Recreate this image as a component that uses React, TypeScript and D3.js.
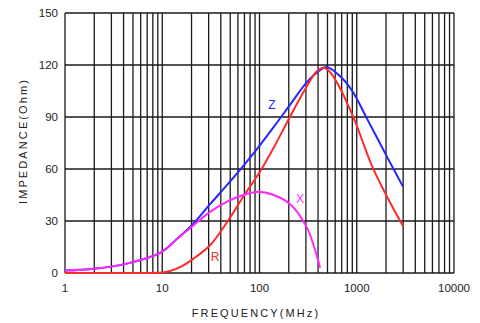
import { useEffect, useRef } from 'react';
import * as d3 from 'd3';

// values
const freqX = [1, 2, 4.3, 9.5, 14, 21, 31, 46, 68, 94, 140, 207, 305, 360, 420];
const valX = [1.5, 2.5, 5.4, 11.6, 19.3, 27.6, 35.3, 41, 45, 46.8, 45, 39.7, 26.6, 16, 3];

const freqZ = [1, 2, 4.3, 9.5, 14, 21, 31, 46, 63, 94, 139, 206, 306, 420, 490, 675, 900, 1270, 2050, 3000];
const valZ = [1.5, 2.5, 5.4, 11.6, 19.4, 28.6, 39.7, 50.5, 59.5, 71.5, 84, 97, 110, 117, 118.8, 113.5, 105, 89.2, 67, 49.7];

const freqR = [1, 5, 10, 12, 16, 21, 31, 46, 68, 101, 139, 206, 306, 387, 455, 530, 675, 850, 1000, 1200, 1430, 2050, 3000];
const valR = [0, 0, 0.3, 1.2, 4, 8.3, 16, 29, 44, 58.4, 72, 90.2, 107.6, 116.2, 118.4, 116, 106.5, 94.5, 85, 73, 62, 44, 27];

const yTicks = [0, 30, 60, 90, 120, 150];
const xTicks = [1, 10, 100, 1000, 10000];

const series = [
  { name: 'Z', freq: freqZ, val: valZ, color: '#2626ff', labelAt: [134, 97] },
  { name: 'R', freq: freqR, val: valR, color: '#ff2a2a', labelAt: [35, 9.3] },
  { name: 'X', freq: freqX, val: valX, color: '#ff26ff', labelAt: [262, 43] },
];

export default function App() {
  const svgRef = useRef<SVGSVGElement>(null);
  const width = 480;
  const height = 323;

  useEffect(() => {
    if (!svgRef.current) return;
    const svg = d3.select(svgRef.current);
    svg.selectAll('*').remove();

    const margin = { top: 13, right: 26, bottom: 50, left: 65 };
    const innerWidth = width - margin.left - margin.right;
    const innerHeight = height - margin.top - margin.bottom;

    const x = d3.scaleLog().domain([1, 10000]).range([0, innerWidth]);
    const y = d3.scaleLinear().domain([0, 150]).range([innerHeight, 0]);

    const g = svg.append('g').attr('transform', `translate(${margin.left},${margin.top})`);

    // vertical grid at every log tick
    const minor: number[] = [];
    for (let d = 1; d < 10000; d *= 10) {
      for (let k = 1; k <= 9; k++) minor.push(d * k);
    }
    minor.push(10000);
    g.selectAll('.vgrid')
      .data(minor)
      .join('line')
      .attr('x1', d => x(d))
      .attr('x2', d => x(d))
      .attr('y1', 0)
      .attr('y2', innerHeight)
      .attr('stroke', '#1a1a1a')
      .attr('stroke-width', 1.3);

    g.selectAll('.hgrid')
      .data(yTicks)
      .join('line')
      .attr('x1', 0)
      .attr('x2', innerWidth)
      .attr('y1', d => y(d))
      .attr('y2', d => y(d))
      .attr('stroke', '#1a1a1a')
      .attr('stroke-width', 1.3);

    const font = 'Liberation Sans, Arial, sans-serif';

    g.selectAll('.ylab')
      .data(yTicks)
      .join('text')
      .attr('x', -7)
      .attr('y', d => y(d))
      .attr('dy', '0.35em')
      .attr('text-anchor', 'end')
      .attr('font-family', font)
      .attr('font-size', '11.5px')
      .attr('fill', '#222')
      .text(d => d);

    g.selectAll('.xlab')
      .data(xTicks)
      .join('text')
      .attr('x', d => x(d))
      .attr('y', innerHeight + 19)
      .attr('text-anchor', 'middle')
      .attr('font-family', font)
      .attr('font-size', '11.5px')
      .attr('fill', '#222')
      .text(d => d);

    // curves
    const line = d3.line<[number, number]>()
      .x(d => x(d[0]))
      .y(d => y(d[1]))
      .curve(d3.curveCatmullRom.alpha(0.5));

    series.forEach(s => {
      const pts = s.freq.map((f, i) => [f, s.val[i]] as [number, number]);
      g.append('path')
        .attr('d', line(pts))
        .attr('fill', 'none')
        .attr('stroke', s.color)
        .attr('stroke-width', 2);
      g.append('text')
        .attr('x', x(s.labelAt[0]))
        .attr('y', y(s.labelAt[1]))
        .attr('dy', '0.35em')
        .attr('text-anchor', 'middle')
        .attr('font-family', font)
        .attr('font-size', '12px')
        .attr('fill', s.color)
        .text(s.name);
    });

    // axis titles
    svg.append('text')
      .attr('x', 256)
      .attr('y', 317)
      .attr('text-anchor', 'middle')
      .attr('font-family', font)
      .attr('font-size', '11px')
      .attr('letter-spacing', '2.1px')
      .attr('fill', '#222')
      .text('FREQUENCY(MHz)');

    svg.append('text')
      .attr('transform', `translate(27,141) rotate(-90)`)
      .attr('text-anchor', 'middle')
      .attr('font-family', font)
      .attr('font-size', '11px')
      .attr('letter-spacing', '2.1px')
      .attr('fill', '#222')
      .text('IMPEDANCE(Ohm)');
  }, []);

  return (
    <svg
      ref={svgRef}
      width={width}
      height={height}
      style={{ position: 'absolute', left: 0, top: 0, background: '#fff' }}
    />
  );
}
